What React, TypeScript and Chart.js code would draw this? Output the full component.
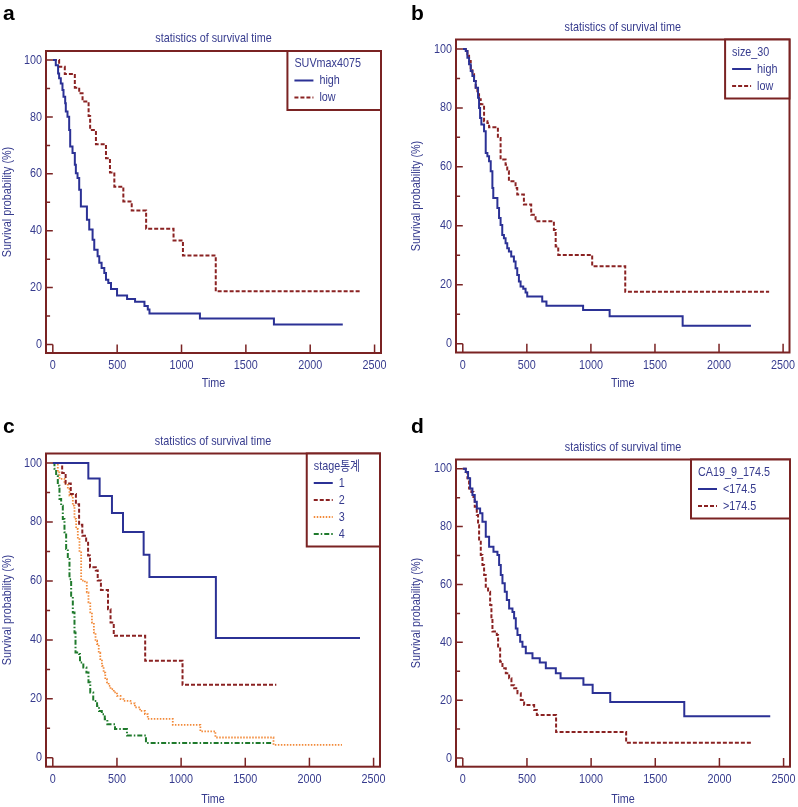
import React, { useEffect, useRef } from 'react';
import { Chart, registerables } from 'chart.js';

Chart.register(...registerables);

// ---------- data ----------
const xTickValues = [0, 500, 1000, 1500, 2000, 2500];
const yTickValues = [0, 20, 40, 60, 80, 100];
const yMinorTickValues = [10, 30, 50, 70, 90];

const chartTitle = 'statistics of survival time';
const xAxisTitle = 'Time';
const yAxisTitle = 'Survival probability (%)';

// Panel a : SUVmax4075
const aLegendTitle = 'SUVmax4075';
const aLabels = ['high', 'low'];
const aHighTime = [0, 23, 41, 49, 62, 75, 83, 96, 101, 114, 127, 135, 153, 171, 179, 192, 205, 218, 265, 283, 309, 322, 348, 361, 379, 400, 413, 431, 452, 499, 577, 639, 712, 738, 751, 1143, 1718, 2253];
const aHighSurv = [100, 98.2, 95.3, 93.6, 91.8, 89.5, 87.1, 84.8, 81.9, 80.1, 75.4, 69.6, 67.3, 63.2, 60.2, 58.5, 54.4, 48.5, 43.9, 40.4, 36.8, 33.3, 31.0, 28.7, 26.9, 25.1, 22.8, 21.6, 19.5, 17.2, 16.0, 15.0, 13.5, 12.3, 10.9, 9.1, 7.0, 7.0];
const aLowTime = [0, 49, 93, 171, 205, 231, 278, 290, 335, 413, 444, 478, 548, 613, 725, 938, 1011, 1266, 2396];
const aLowSurv = [100, 97.7, 95.1, 90.3, 88.3, 85.4, 80.3, 75.4, 70.4, 65.5, 60.5, 55.5, 50.3, 47.1, 40.7, 36.6, 31.3, 18.7, 18.7];

// Panel b : size_30
const bLegendTitle = 'size_30';
const bLabels = ['high', 'low'];
const bHighTime = [0, 23, 36, 49, 62, 75, 88, 101, 119, 127, 135, 145, 166, 179, 192, 205, 218, 231, 238, 270, 283, 295, 308, 321, 334, 347, 360, 378, 399, 412, 425, 438, 451, 472, 490, 503, 620, 653, 939, 1146, 1716, 2249];
const bHighSurv = [100, 99.3, 97.0, 94.8, 92.5, 90.8, 89.1, 86.8, 83.4, 80.0, 76.6, 74.4, 72.1, 64.7, 63.6, 61.9, 58.5, 52.8, 49.4, 46.0, 42.6, 40.3, 36.9, 35.8, 34.1, 32.4, 31.3, 29.6, 27.9, 25.6, 23.3, 21.1, 19.4, 18.6, 17.4, 16.0, 14.3, 12.9, 11.4, 9.3, 6.1, 6.1];
const bLowTime = [0, 23, 36, 49, 62, 75, 88, 101, 114, 127, 140, 166, 192, 205, 274, 295, 334, 347, 360, 412, 425, 477, 534, 568, 711, 725, 745, 1010, 1268, 2391];
const bLowSurv = [100, 99.3, 98.2, 95.9, 93.1, 91.4, 89.1, 86.8, 84.6, 82.9, 81.2, 75.5, 74.9, 73.4, 69.8, 62.5, 60.7, 58.5, 55.1, 52.8, 50.6, 47.2, 43.7, 41.5, 38.6, 33.0, 30.1, 26.3, 17.6, 17.6];

// Panel c : stage
const cLegendTitle = 'stage통계';
const cLabels = ['1', '2', '3', '4'];
const cS1Time = [0, 277, 365, 461, 547, 708, 753, 1271, 2394];
const cS1Surv = [100, 94.7, 88.8, 83.0, 76.6, 68.9, 61.3, 40.6, 40.6];
const cS2Time = [0, 73, 100, 140, 180, 205, 230, 260, 275, 290, 335, 350, 375, 430, 450, 475, 720, 1011, 1742];
const cS2Surv = [100, 96.6, 93.0, 89.5, 86.0, 79.0, 75.3, 73.6, 68.6, 64.6, 63.5, 60.1, 56.9, 50.4, 45.9, 41.4, 32.9, 24.8, 24.8];
const cS3Time = [0, 39, 52, 91, 117, 130, 156, 169, 182, 195, 208, 221, 250, 265, 278, 292, 305, 320, 333, 345, 358, 370, 383, 396, 409, 422, 435, 450, 475, 500, 528, 552, 605, 640, 680, 718, 740, 935, 1150, 1267, 1720, 2254];
const cS3Surv = [100, 96.8, 94.6, 92.9, 91.2, 88.9, 85.5, 81.0, 77.6, 74.2, 69.7, 60.1, 59.5, 56.1, 52.7, 49.3, 45.9, 42.5, 39.7, 38.6, 35.7, 33.5, 31.2, 28.9, 26.7, 25.6, 24.4, 23.3, 22.2, 21.0, 19.9, 19.3, 18.5, 17.1, 15.9, 14.8, 13.2, 11.2, 9.0, 6.9, 4.4, 4.4];
const cS4Time = [0, 13, 26, 39, 52, 65, 78, 91, 104, 117, 130, 143, 156, 169, 177, 205, 212, 238, 262, 278, 292, 315, 345, 360, 382, 405, 425, 485, 578, 726, 1709];
const cS4Surv = [100, 98.0, 95.7, 92.3, 87.8, 85.5, 81.0, 76.5, 70.8, 67.4, 60.6, 55.0, 49.3, 42.5, 35.7, 35.2, 32.3, 30.6, 28.9, 25.6, 22.2, 19.3, 17.6, 15.9, 14.8, 13.1, 11.4, 9.8, 7.6, 5.0, 5.0];

// Panel d : CA19_9_174.5
const dLegendTitle = 'CA19_9_174.5';
const dLabels = ['<174.5', '>174.5'];
const dLowTime = [0, 23, 41, 57, 75, 93, 109, 135, 153, 179, 205, 239, 270, 283, 296, 309, 327, 343, 361, 387, 400, 413, 426, 447, 465, 491, 543, 600, 647, 725, 762, 940, 1012, 1149, 1726, 2396];
const dLowSurv = [100, 98.9, 96.7, 93.2, 90.9, 88.6, 86.3, 84.6, 81.7, 76.5, 73.0, 71.3, 70.2, 66.7, 63.3, 60.4, 57.5, 54.6, 51.7, 50.5, 48.3, 44.8, 42.5, 40.2, 38.5, 36.2, 34.5, 33.0, 31.0, 29.3, 27.6, 25.3, 22.5, 19.4, 14.4, 14.4];
const dHighTime = [0, 23, 36, 49, 67, 83, 93, 109, 119, 127, 140, 153, 166, 179, 197, 213, 223, 231, 265, 275, 291, 309, 335, 361, 379, 400, 426, 452, 478, 556, 577, 727, 1273, 2258];
const dHighSurv = [100, 98.9, 96.7, 93.2, 92.0, 89.7, 86.9, 84.0, 80.5, 74.8, 70.2, 66.7, 63.3, 59.2, 57.5, 52.9, 48.3, 43.7, 42.5, 37.9, 33.3, 31.0, 29.3, 27.6, 25.2, 24.1, 22.4, 20.1, 18.3, 16.6, 14.9, 9.0, 5.3, 5.3];

// ---------- styles ----------
const FONT = "'Liberation Sans', Arial, 'Noto Sans CJK KR', sans-serif";
const SX = 0.83; // horizontal condensing of all chart text (narrow face look)
const TEXT = '#363b8e';
const FRAME = '#7a2323';
const BLUE = '#2b3195';
const RED = '#8a2222';
const ORANGE = '#f28a3a';
const GREEN = '#1f7a2c';

const X_MIN = -53;
const X_MAX = 2550;
const Y_MIN = -3;
const Y_MAX = 103.2;

type LineStyle = { color: string; dash: number[]; width: number };
const SOLID_BLUE: LineStyle = { color: BLUE, dash: [], width: 2 };
const DASH_RED: LineStyle = { color: RED, dash: [4, 2], width: 2 };
const DOT_ORANGE: LineStyle = { color: ORANGE, dash: [1.5, 1.5], width: 1.8 };
const DASHDOT_GREEN: LineStyle = { color: GREEN, dash: [5, 2, 1.5, 2], width: 2 };

type Panel = {
  key: string;
  letter: string;
  left: number;
  top: number;
  w: number;
  h: number;
  area: { l: number; t: number; r: number; b: number };
  yTitlePad: number;
  xTitlePad: number;
  legendTitle: string;
  series: { label: string; t: number[]; s: number[]; style: LineStyle }[];
  letterPos: { x: number; y: number };
};

const panels: Panel[] = [
  {
    key: 'a', letter: 'a', left: 0, top: 0, w: 399, h: 395,
    area: { l: 46, t: 51, r: 381, b: 353 }, yTitlePad: 0, xTitlePad: 4,
    legendTitle: aLegendTitle,
    series: [
      { label: aLabels[0], t: aHighTime, s: aHighSurv, style: SOLID_BLUE },
      { label: aLabels[1], t: aLowTime, s: aLowSurv, style: DASH_RED },
    ],
    letterPos: { x: 3, y: 2 },
  },
  {
    key: 'b', letter: 'b', left: 399, top: 0, w: 399, h: 395,
    area: { l: 57, t: 39.5, r: 390.5, b: 352.5 }, yTitlePad: 10, xTitlePad: 4,
    legendTitle: bLegendTitle,
    series: [
      { label: bLabels[0], t: bHighTime, s: bHighSurv, style: SOLID_BLUE },
      { label: bLabels[1], t: bLowTime, s: bLowSurv, style: DASH_RED },
    ],
    letterPos: { x: 411, y: 2 },
  },
  {
    key: 'c', letter: 'c', left: 0, top: 395, w: 399, h: 412,
    area: { l: 46, t: 58.5, r: 380, b: 371.7 }, yTitlePad: 0, xTitlePad: 0,
    legendTitle: cLegendTitle,
    series: [
      { label: cLabels[0], t: cS1Time, s: cS1Surv, style: SOLID_BLUE },
      { label: cLabels[1], t: cS2Time, s: cS2Surv, style: DASH_RED },
      { label: cLabels[2], t: cS3Time, s: cS3Surv, style: DOT_ORANGE },
      { label: cLabels[3], t: cS4Time, s: cS4Surv, style: DASHDOT_GREEN },
    ],
    letterPos: { x: 3, y: 415 },
  },
  {
    key: 'd', letter: 'd', left: 399, top: 395, w: 399, h: 412,
    area: { l: 57, t: 64.5, r: 391, b: 371.7 }, yTitlePad: 10, xTitlePad: 0,
    legendTitle: dLegendTitle,
    series: [
      { label: dLabels[0], t: dLowTime, s: dLowSurv, style: SOLID_BLUE },
      { label: dLabels[1], t: dHighTime, s: dHighSurv, style: DASH_RED },
    ],
    letterPos: { x: 411, y: 415 },
  },
];

// ---------- plugin: frame, inward ticks, title, boxed legend ----------
const kmPlugin = {
  id: 'km',
  afterDraw(chart: any, _args: any, opts: any) {
    const { ctx, chartArea: a, scales } = chart;
    const x = scales.x;
    const y = scales.y;
    ctx.save();

    // title
    ctx.fillStyle = TEXT;
    ctx.font = `13px ${FONT}`;
    ctx.textAlign = 'center';
    ctx.textBaseline = 'middle';
    ctx.fillText(opts.title, (a.left + a.right) / 2, a.top - 12.5);

    // frame
    ctx.strokeStyle = FRAME;
    ctx.lineWidth = 2;
    ctx.strokeRect(a.left, a.top, a.right - a.left, a.bottom - a.top);

    // inward ticks
    const x0 = x.getPixelForValue(0);
    const y0 = y.getPixelForValue(0);
    ctx.lineWidth = 1.5;
    ctx.beginPath();
    for (const v of yTickValues) {
      const py = y.getPixelForValue(v);
      ctx.moveTo(a.left, py);
      ctx.lineTo(x0, py);
    }
    for (const v of yMinorTickValues) {
      const py = y.getPixelForValue(v);
      ctx.moveTo(a.left, py);
      ctx.lineTo(a.left + (x0 - a.left) * 0.6, py);
    }
    for (const v of xTickValues) {
      const px = x.getPixelForValue(v);
      ctx.moveTo(px, a.bottom);
      ctx.lineTo(px, y0);
    }
    ctx.stroke();

    // legend box
    ctx.font = `13px ${FONT}`;
    const ds = chart.data.datasets;
    const titleW = ctx.measureText(opts.legendTitle).width * SX;
    const labW = Math.max(...ds.map((d: any) => ctx.measureText(d.label).width * SX));
    const bw = Math.max(7 + titleW + 20, 32 + labW + 12);
    const bh = 25 + 17 * ds.length;
    const bx = a.right - bw;
    const by = a.top;
    ctx.fillStyle = '#ffffff';
    ctx.fillRect(bx, by, bw, bh);
    ctx.strokeStyle = FRAME;
    ctx.lineWidth = 2;
    ctx.strokeRect(bx, by, bw, bh);
    ctx.fillStyle = TEXT;
    ctx.textAlign = 'left';
    ctx.textBaseline = 'middle';
    ctx.fillText(opts.legendTitle, bx + 7, by + 12.5);
    ds.forEach((d: any, i: number) => {
      const cy = by + 12.5 + 17 * (i + 1);
      ctx.save();
      ctx.strokeStyle = d.borderColor;
      ctx.lineWidth = d.borderWidth;
      ctx.setLineDash(d.borderDash || []);
      ctx.beginPath();
      ctx.moveTo(bx + 7, cy);
      ctx.lineTo(bx + 26, cy);
      ctx.stroke();
      ctx.restore();
      ctx.fillStyle = TEXT;
      ctx.fillText(d.label, bx + 32, cy);
    });

    ctx.restore();
  },
};

// Condense all text drawn on this canvas horizontally around its anchor point.
function condenseText(canvas: HTMLCanvasElement) {
  const ctx = canvas.getContext('2d') as any;
  if (!ctx || ctx.__condensed) return;
  const orig = ctx.fillText.bind(ctx);
  ctx.fillText = (text: string, px: number, py: number) => {
    ctx.save();
    ctx.translate(px, py);
    ctx.scale(SX, 1);
    orig(text, 0, 0);
    ctx.restore();
  };
  ctx.__condensed = true;
}

function makeChart(canvas: HTMLCanvasElement, p: Panel) {
  condenseText(canvas);
  const datasets = p.series.map((s) => ({
    label: s.label,
    data: s.t.map((t, i) => ({ x: t, y: s.s[i] })),
    borderColor: s.style.color,
    borderWidth: s.style.width,
    borderDash: s.style.dash,
    stepped: true,
    pointRadius: 0,
    fill: false,
    tension: 0,
  }));
  const tickFont = { family: FONT, size: 13 };
  return new Chart(canvas, {
    type: 'line',
    data: { datasets } as any,
    options: {
      animation: false,
      responsive: false,
      devicePixelRatio: 1,
      events: [],
      layout: { padding: { left: 0, top: p.area.t, right: p.w - p.area.r, bottom: 0 } },
      plugins: {
        legend: { display: false },
        tooltip: { enabled: false },
        title: { display: false },
        km: { title: chartTitle, legendTitle: p.legendTitle },
      } as any,
      scales: {
        x: {
          type: 'linear',
          min: X_MIN,
          max: X_MAX,
          afterBuildTicks: (ax: any) => {
            ax.ticks = xTickValues.map((v) => ({ value: v }));
          },
          afterFit: (ax: any) => {
            ax.height = p.h - p.area.b;
            ax.paddingLeft = 0;
            ax.paddingRight = 0;
          },
          grid: { display: false, drawTicks: false },
          border: { display: false },
          ticks: {
            color: TEXT,
            font: tickFont,
            padding: 5,
            maxRotation: 0,
            autoSkip: false,
            callback: (v: any) => String(v),
          },
          title: {
            display: true,
            text: xAxisTitle,
            color: TEXT,
            font: tickFont,
            padding: { top: 0, bottom: p.xTitlePad },
          },
        },
        y: {
          type: 'linear',
          min: Y_MIN,
          max: Y_MAX,
          afterBuildTicks: (ax: any) => {
            ax.ticks = yTickValues.map((v) => ({ value: v }));
          },
          afterFit: (ax: any) => {
            ax.width = p.area.l;
            ax.paddingTop = 0;
            ax.paddingBottom = 0;
          },
          grid: { display: false, drawTicks: false },
          border: { display: false },
          ticks: { color: TEXT, font: tickFont, padding: 4, autoSkip: false, callback: (v: any) => String(v) },
          title: {
            display: true,
            text: yAxisTitle,
            color: TEXT,
            font: tickFont,
            padding: { top: p.yTitlePad, bottom: 0 },
          },
        },
      } as any,
    },
    plugins: [kmPlugin as any],
  });
}

function PanelCanvas({ p }: { p: Panel }) {
  const ref = useRef<HTMLCanvasElement | null>(null);
  useEffect(() => {
    if (!ref.current) return;
    const chart = makeChart(ref.current, p);
    return () => chart.destroy();
  }, [p]);
  return (
    <canvas
      ref={ref}
      width={p.w}
      height={p.h}
      style={{ position: 'absolute', left: p.left, top: p.top, width: p.w, height: p.h }}
    />
  );
}

export default function App() {
  return (
    <div
      style={{
        position: 'fixed',
        left: 0,
        top: 0,
        width: 798,
        height: 807,
        background: '#ffffff',
        overflow: 'hidden',
      }}
    >
      {panels.map((p) => (
        <PanelCanvas key={p.key} p={p} />
      ))}
      {panels.map((p) => (
        <div
          key={'l' + p.key}
          style={{
            position: 'absolute',
            left: p.letterPos.x,
            top: p.letterPos.y,
            font: "bold 21px 'Liberation Sans', Arial, sans-serif",
            lineHeight: '21px',
            color: '#000',
          }}
        >
          {p.letter}
        </div>
      ))}
    </div>
  );
}
